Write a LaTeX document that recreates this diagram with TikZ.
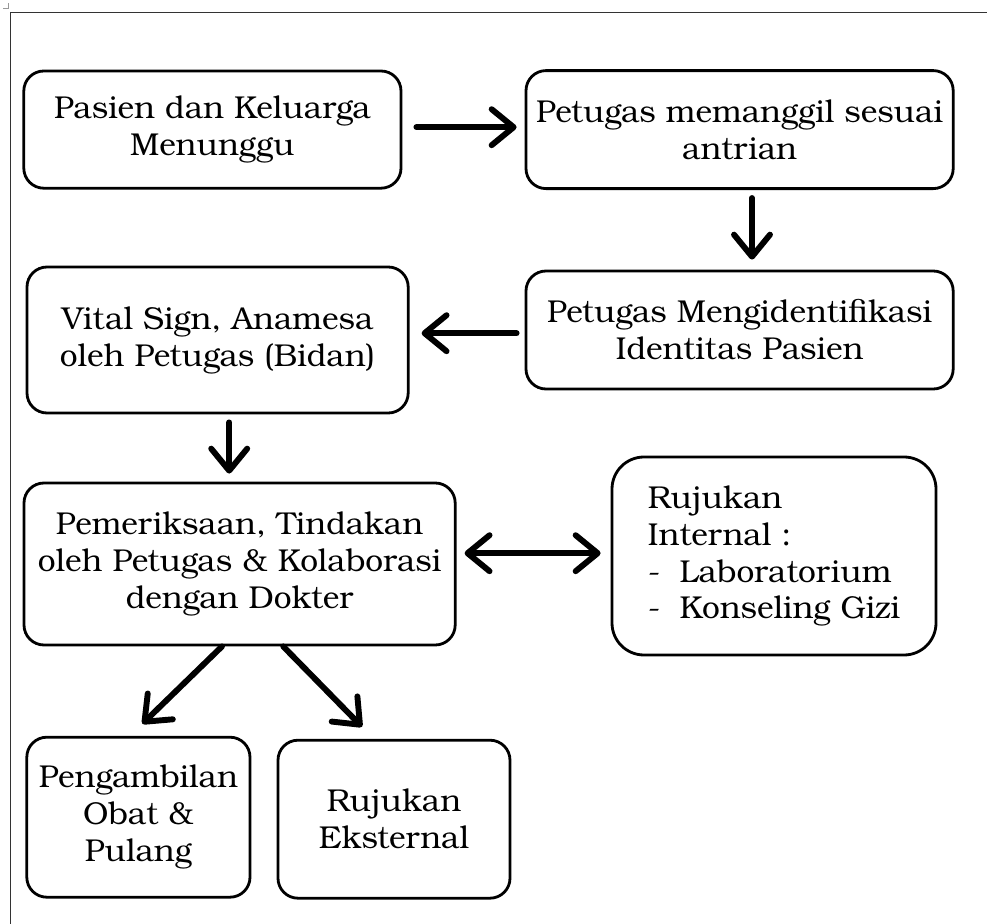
\documentclass[tikz,border=0pt]{standalone}
\usepackage{fontspec}
\setmainfont{texgyrebonum-regular.otf}
\usepackage{xcolor}
\usepackage{tikz}
\usetikzlibrary{arrows.meta}

\begin{document}
\begin{tikzpicture}[node distance=5.2cm,
  stage/.style={rectangle, rounded corners=0.5cm, text centered, align=center, draw=black, line width=2pt, font=\fontsize{22.5}{26.3}\selectfont},
  flow/.style={line width=4.2pt, line cap=round},
  >={Straight Barb[length=5.5mm, width=9mm, round]}]
\useasboundingbox (0,0) rectangle (24.675,-23.1);

% page frame
\draw[line width=0.6pt, black!80] (0.25,-23.1) -- (0.25,-0.3) -- (24.675,-0.3);
\draw[line width=0.4pt, black!40] (0.2,-0.08) -- (0.2,-0.2) -- (0.08,-0.2);

\node (pasien) [stage, minimum width=9.43cm, minimum height=2.93cm] at (5.31,-3.24) {Pasien dan Keluarga\\Menunggu};

\node (panggil) [stage, minimum width=10.68cm, minimum height=2.95cm, right of=pasien, xshift=7.98cm] {Petugas memanggil sesuai\\antrian};

\node (identitas) [stage, minimum width=10.68cm, minimum height=2.95cm, below of=panggil, yshift=0.19cm] {Petugas Mengidentifikasi\\Identitas Pasien};

\node (vital) [stage, minimum width=9.53cm, minimum height=3.65cm, below of=pasien, xshift=0.13cm, yshift=-0.06cm] {Vital Sign, Anamesa\\oleh Petugas (Bidan)};

\node (periksa) [stage, minimum width=10.78cm, minimum height=4.05cm, below of=vital, xshift=0.55cm, yshift=-0.4cm] {Pemeriksaan, Tindakan\\oleh Petugas \& Kolaborasi\\dengan Dokter};

\node (internal) [stage, rounded corners=0.8cm, align=left, minimum width=8.1cm, minimum height=4.95cm, right of=periksa, xshift=8.16cm, yshift=0.2cm] {Rujukan\\Internal :\\-\hspace{0.6em}Laboratorium\\-\hspace{0.6em}Konseling Gizi};

\node (obat) [stage, inner sep=0pt, minimum width=5.58cm, minimum height=4cm, below of=periksa, xshift=-2.53cm, yshift=-1.13cm] {Pengambilan\\Obat \&\\Pulang};

\node (eksternal) [stage, minimum width=5.8cm, minimum height=3.95cm, right of=obat, xshift=1.19cm, yshift=-0.05cm] {Rujukan\\Eksternal};

\draw[flow,->, shorten <=0.35cm, shorten >=0.2cm] ([yshift=0.06cm]pasien.east) -- ([yshift=0.06cm]pasien.east -| panggil.west);
\draw[flow,->, shorten <=0.2cm, shorten >=0.25cm] ([xshift=0.31cm]panggil.south) -- ([xshift=0.31cm]panggil.south |- identitas.north);
\draw[flow,->, shorten <=0.2cm, shorten >=0.3cm] ([yshift=-0.08cm]identitas.west) -- ([yshift=-0.08cm]identitas.west -| vital.east);
\draw[flow,->, shorten <=0.2cm, shorten >=0.2cm] ([xshift=0.29cm]vital.south) -- ([xshift=0.29cm]vital.south |- periksa.north);
\draw[flow,<->, shorten <=0.2cm, shorten >=0.25cm] ([yshift=0.27cm]periksa.east) -- ([yshift=0.27cm]periksa.east -| internal.west);

\draw[flow,->] ([xshift=-0.44cm]periksa.south) -- ([xshift=0.1cm, yshift=0.3cm]obat.north);
\draw[flow,->] ([xshift=1.09cm]periksa.south) -- ([xshift=-0.8cm, yshift=0.3cm]eksternal.north);

\end{tikzpicture}
\end{document}
